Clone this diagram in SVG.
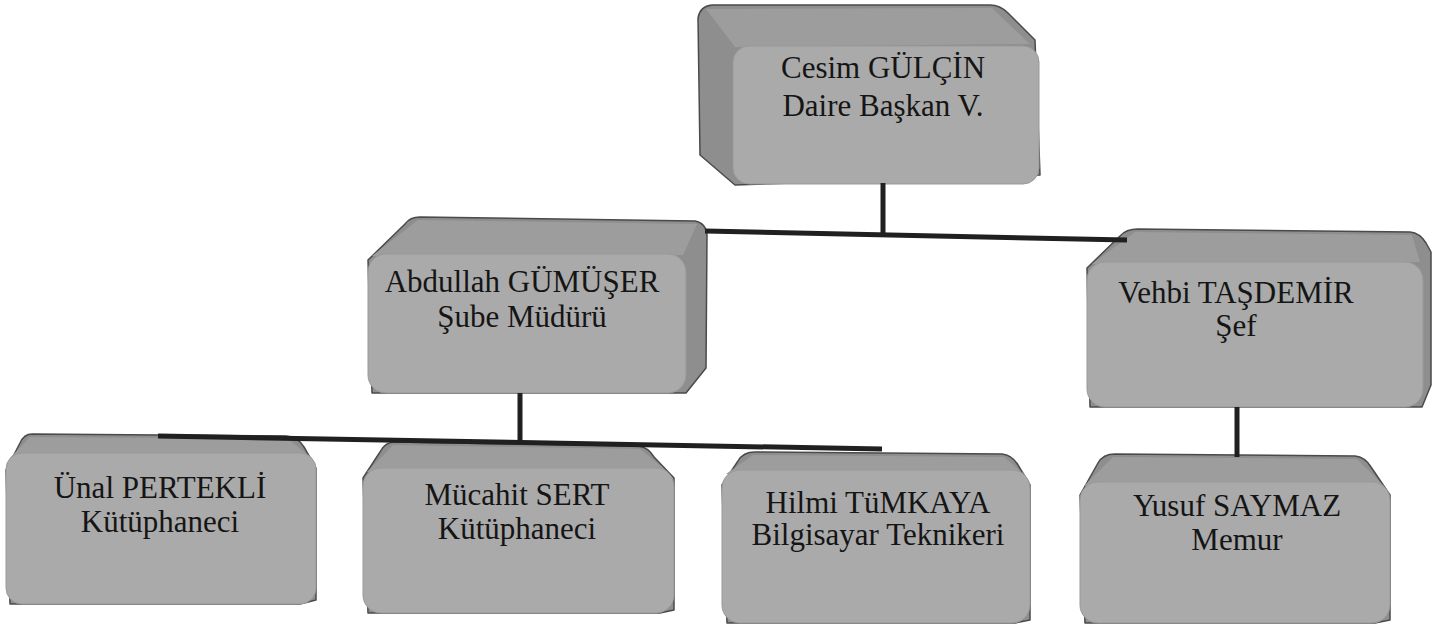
<svg xmlns="http://www.w3.org/2000/svg" width="1440" height="627" viewBox="0 0 1440 627">
<style>
.back{fill:#8e8e8e;stroke:#4a4a4a;stroke-width:1.5;stroke-linejoin:round}
.top{fill:#9d9d9d;stroke:none}
.front{fill:#aaaaaa;stroke:#999999;stroke-width:1}
.t{font-family:"Liberation Serif","Times New Roman",serif;font-size:31px;fill:#151515;text-anchor:middle}
.c{stroke:#202020;stroke-width:5;fill:none;stroke-linecap:butt}
</style>
<rect width="1440" height="627" fill="#ffffff"/>
<g id="node-cesim">
<path class="back" d="M712,5 L990,5 Q1000,5 1008,13 L1035,40 L1040,175 L735,185 L700,155 L698,18 Q700,6 712,5 Z"/>
<path class="top" d="M706,9 L992,8 L1030,44 L735,47 Z"/>
<rect class="front" x="733" y="46" width="306" height="138" rx="16"/>
<text class="t" x="883" y="78">Cesim GÜLÇİN</text>
<text class="t" x="883" y="116">Daire Başkan V.</text>
</g>
<g id="node-abdullah">
<path class="back" d="M420,217 L695,221 Q706,223 707,235 L706,368 L686,393 L372,393 L368,260 L405,224 Q410,217 420,217 Z"/>
<path class="top" d="M418,220 L697,224 L683,255 L372,256 Z"/>
<rect class="front" x="368" y="254" width="318" height="139" rx="18"/>
<text class="t" x="522" y="292">Abdullah GÜMÜŞER</text>
<text class="t" x="522" y="327">Şube Müdürü</text>
</g>
<g id="node-vehbi">
<path class="back" d="M1138,229 L1410,232 Q1420,233 1426,243 L1431,252 L1431,385 L1422,407 L1090,407 L1087,268 L1120,236 Q1126,229 1138,229 Z"/>
<path class="top" d="M1135,232 L1412,235 L1420,262 L1092,264 Z"/>
<rect class="front" x="1087" y="262" width="336" height="145" rx="18"/>
<text class="t" x="1236" y="303">Vehbi TAŞDEMİR</text>
<text class="t" x="1236" y="336">Şef</text>
</g>
<g id="node-unal">
<path class="back" d="M32,434 L286,436 Q298,437 304,447 L316,468 L316,600 L300,604 L10,604 L6,470 L20,443 Q24,434 32,434 Z"/>
<path class="top" d="M30,437 L288,439 L312,458 L10,458 Z"/>
<rect class="front" x="6" y="453" width="310" height="151" rx="16"/>
<text class="t" x="160" y="498">Ünal PERTEKLİ</text>
<text class="t" x="160" y="532">Kütüphaneci</text>
</g>
<g id="node-mucahit">
<path class="back" d="M395,442 L638,446 Q648,447 654,457 L674,478 L674,610 L660,613 L368,613 L363,478 L380,452 Q385,442 395,442 Z"/>
<path class="top" d="M393,445 L640,449 L668,472 L367,472 Z"/>
<rect class="front" x="363" y="468" width="311" height="145" rx="18"/>
<text class="t" x="517" y="505">Mücahit SERT</text>
<text class="t" x="517" y="539">Kütüphaneci</text>
</g>
<g id="node-hilmi">
<path class="back" d="M755,452 L1002,454 Q1012,455 1018,465 L1030,485 L1030,620 L1015,623 L727,623 L722,485 L738,461 Q743,452 755,452 Z"/>
<path class="top" d="M753,455 L1004,457 L1024,474 L726,474 Z"/>
<rect class="front" x="722" y="470" width="308" height="153" rx="18"/>
<text class="t" x="878" y="513">Hilmi TüMKAYA</text>
<text class="t" x="878" y="545">Bilgisayar Teknikeri</text>
</g>
<g id="node-yusuf">
<path class="back" d="M1115,454 L1355,456 Q1365,457 1371,467 L1390,495 L1390,620 L1375,623 L1085,623 L1080,495 L1098,463 Q1103,454 1115,454 Z"/>
<path class="top" d="M1113,457 L1357,459 L1384,486 L1084,486 Z"/>
<rect class="front" x="1080" y="482" width="310" height="141" rx="18"/>
<text class="t" x="1237" y="516">Yusuf SAYMAZ</text>
<text class="t" x="1237" y="550">Memur</text>
</g>
<g id="connectors">
<path class="c" d="M883,183 V234"/>
<path class="c" d="M705,231 L1127,240"/>
<path class="c" d="M520,393 V442"/>
<path class="c" d="M158,436 L882,449"/>
<path class="c" d="M1237,407 V457"/>
</g>
</svg>
